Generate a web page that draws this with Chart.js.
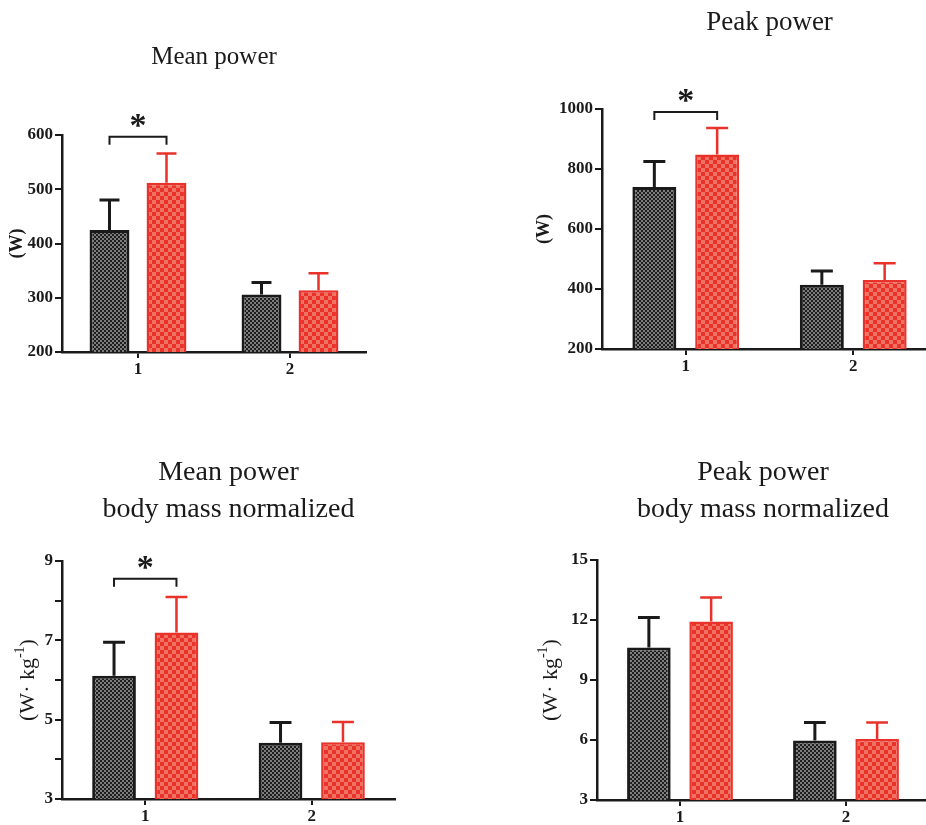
<!DOCTYPE html>
<html>
<head>
<meta charset="utf-8">
<script src="https://cdn.jsdelivr.net/npm/chart.js@4.4.1/dist/chart.umd.min.js"></script>
<style>
    body { margin: 0; background: #fff; overflow: hidden; }
    #page { position: relative; width: 926px; height: 825px; overflow: hidden; background: #fff; }
    canvas { position: absolute; }
</style>
</head>
<body>
<div id="page">
    <canvas id="meanChart" width="380" height="390" style="left:0px; top:0px;"></canvas>
    <canvas id="peakChart" width="425" height="390" style="left:525px; top:0px;"></canvas>
    <canvas id="meanNormChart" width="420" height="395" style="left:0px; top:430px;"></canvas>
    <canvas id="peakNormChart" width="420" height="395" style="left:520px; top:430px;"></canvas>
</div>
<script>
// --- Data ---
const groups = ['1', '2'];

const meanPowerA = [425, 306];
const meanPowerAErr = [55, 22];
const meanPowerB = [512, 314];
const meanPowerBErr = [54, 31];

const peakPowerA = [740, 414];
const peakPowerAErr = [85, 46];
const peakPowerB = [848, 430];
const peakPowerBErr = [89, 56];

const meanNormA = [6.11, 4.42];
const meanNormAErr = [0.84, 0.51];
const meanNormB = [7.20, 4.43];
const meanNormBErr = [0.89, 0.51];

const peakNormA = [10.63, 5.97];
const peakNormAErr = [1.50, 0.91];
const peakNormB = [11.92, 6.05];
const peakNormBErr = [1.20, 0.82];

// y level of the "*" bracket for group 1 (null = no bracket)
const sigLevels = [597, 990, 8.55, null];

const INK = '#1a1a1a';
const RED = '#e8322a';
const SERIF = "'Liberation Serif', 'Times New Roman', serif";

// --- Fill patterns ---
function checker(c1, c2, size) {
    const cv = document.createElement('canvas');
    cv.width = cv.height = size * 2;
    const c = cv.getContext('2d');
    c.fillStyle = c1;
    c.fillRect(0, 0, size * 2, size * 2);
    c.fillStyle = c2;
    c.fillRect(0, 0, size, size);
    c.fillRect(size, size, size, size);
    return c.createPattern(cv, 'repeat');
}
const darkPattern = checker('#1e1e1e', '#7c7c7c', 2);
const redPattern = checker('#e8322a', '#ef7262', 4);

// --- Plugins ---
const errorBars = {
    id: 'errorBars',
    afterDatasetsDraw(chart) {
        const ctx = chart.ctx;
        const yScale = chart.scales.y;
        chart.data.datasets.forEach((ds, i) => {
            const meta = chart.getDatasetMeta(i);
            meta.data.forEach((bar, j) => {
                const top = yScale.getPixelForValue(ds.data[j] + ds.errors[j]);
                const cap = bar.width * 0.25;
                ctx.save();
                ctx.strokeStyle = ds.borderColor;
                ctx.lineWidth = ds.errorWidth;
                ctx.beginPath();
                ctx.moveTo(bar.x, bar.y);
                ctx.lineTo(bar.x, top);
                ctx.moveTo(bar.x - cap, top);
                ctx.lineTo(bar.x + cap, top);
                ctx.stroke();
                ctx.restore();
            });
        });
    }
};

const sigBracket = {
    id: 'sigBracket',
    afterDraw(chart, args, opts) {
        if (opts.level == null) return;
        const ctx = chart.ctx;
        const x1 = chart.getDatasetMeta(0).data[0].x;
        const x2 = chart.getDatasetMeta(1).data[0].x;
        const y = chart.scales.y.getPixelForValue(opts.level);
        ctx.save();
        ctx.strokeStyle = INK;
        ctx.lineWidth = 2;
        ctx.beginPath();
        ctx.moveTo(x1, y + 8);
        ctx.lineTo(x1, y);
        ctx.lineTo(x2, y);
        ctx.lineTo(x2, y + 8);
        ctx.stroke();
        ctx.fillStyle = INK;
        ctx.font = 'bold 34px ' + SERIF;
        ctx.textAlign = 'center';
        ctx.textBaseline = 'alphabetic';
        ctx.fillText('*', (x1 + x2) / 2, y - 1);
        ctx.restore();
    }
};

const yLabel = {
    id: 'yLabel',
    afterDraw(chart, args, opts) {
        const ctx = chart.ctx;
        const area = chart.chartArea;
        const x = area.left - opts.offset;
        const y = (area.top + area.bottom) / 2;
        ctx.save();
        ctx.translate(x, y);
        ctx.rotate(-Math.PI / 2);
        ctx.fillStyle = INK;
        ctx.textBaseline = 'middle';
        ctx.textAlign = 'left';
        let total = 0;
        opts.parts.forEach(p => {
            ctx.font = p.sup ? opts.supFont : opts.font;
            total += ctx.measureText(p.text).width;
        });
        let cx = -total / 2;
        opts.parts.forEach(p => {
            ctx.font = p.sup ? opts.supFont : opts.font;
            ctx.fillText(p.text, cx, p.sup ? -8 : 0);
            cx += ctx.measureText(p.text).width;
        });
        ctx.restore();
    }
};

// --- Chart builder ---
function makeChart(id, p) {
    return new Chart(document.getElementById(id), {
        type: 'bar',
        data: {
            labels: groups,
            datasets: [
                {
                    data: p.a, errors: p.aErr,
                    backgroundColor: darkPattern, borderColor: INK, borderWidth: 3, errorWidth: 3,
                    categoryPercentage: 0.75, barPercentage: 0.7
                },
                {
                    data: p.b, errors: p.bErr,
                    backgroundColor: redPattern, borderColor: RED, borderWidth: 2.5, errorWidth: 2.5,
                    categoryPercentage: 0.75, barPercentage: 0.7
                }
            ]
        },
        plugins: [errorBars, sigBracket, yLabel],
        options: {
            responsive: false,
            animation: false,
            layout: { padding: p.padding },
            plugins: {
                legend: { display: false },
                tooltip: { enabled: false },
                title: {
                    display: true,
                    fullSize: false,
                    text: p.title,
                    color: INK,
                    font: { family: SERIF, size: p.titleSize, weight: 'normal', lineHeight: p.titleLH },
                    padding: p.titlePad
                },
                sigBracket: { level: p.sig },
                yLabel: p.yLabel
            },
            scales: {
                x: {
                    offset: true,
                    grid: { display: true, drawOnChartArea: false, offset: false, tickLength: 6, color: INK, lineWidth: 2 },
                    border: { display: true, color: INK, width: 2.5 },
                    ticks: { color: INK, padding: 1, font: { family: SERIF, size: 17, weight: 'bold' } },
                    afterFit: s => { s.height = p.xHeight; }
                },
                y: {
                    min: p.min, max: p.max,
                    grid: { display: true, drawOnChartArea: false, tickLength: 7, color: INK, lineWidth: 2 },
                    border: { display: true, color: INK, width: 2.5 },
                    ticks: {
                        stepSize: p.step, autoSkip: false, color: INK, padding: 2,
                        font: { family: SERIF, size: 17, weight: 'bold' },
                        callback: p.tickLabel || (v => v)
                    },
                    afterFit: s => { s.width = p.yWidth; }
                }
            }
        }
    });
}

const wLabel = { offset: 45, font: 'bold 18px ' + SERIF, supFont: 'bold 12px ' + SERIF, parts: [{ text: '(W)' }] };
const wkgParts = [{ text: '(W\u00b7 kg' }, { text: '-1', sup: true }, { text: ')' }];

makeChart('meanChart', {
    a: meanPowerA, aErr: meanPowerAErr, b: meanPowerB, bErr: meanPowerBErr,
    title: 'Mean power', titleSize: 25, titleLH: 1.2, titlePad: { top: 42, bottom: 63 },
    min: 200, max: 600, step: 100, sig: sigLevels[0],
    padding: { left: 0, right: 14, top: 0, bottom: 8 }, yWidth: 62, xHeight: 30,
    yLabel: Object.assign({}, wLabel, { offset: 45 })
});

makeChart('peakChart', {
    a: peakPowerA, aErr: peakPowerAErr, b: peakPowerB, bErr: peakPowerBErr,
    title: 'Peak power', titleSize: 27, titleLH: 1.2, titlePad: { top: 7, bottom: 69.6 },
    min: 200, max: 1000, step: 200, sig: sigLevels[1],
    padding: { left: 0, right: 13, top: 0, bottom: 11 }, yWidth: 77, xHeight: 30,
    yLabel: Object.assign({}, wLabel, { offset: 58 })
});

makeChart('meanNormChart', {
    a: meanNormA, aErr: meanNormAErr, b: meanNormB, bErr: meanNormBErr,
    title: ['Mean power', 'body mass normalized'], titleSize: 28, titleLH: 1.32, titlePad: { top: 24.3, bottom: 32.8 },
    min: 3, max: 9, step: 1, sig: sigLevels[2],
    tickLabel: v => ((v - 3) % 2 === 0 ? v : ''),
    padding: { left: 0, right: 25, top: 0, bottom: 2 }, yWidth: 62, xHeight: 24,
    yLabel: { offset: 34, font: '22px ' + SERIF, supFont: '14px ' + SERIF, parts: wkgParts }
});

makeChart('peakNormChart', {
    a: peakNormA, aErr: peakNormAErr, b: peakNormB, bErr: peakNormBErr,
    title: ['Peak power', 'body mass normalized'], titleSize: 28, titleLH: 1.32, titlePad: { top: 24.3, bottom: 31.8 },
    min: 3, max: 15, step: 3, sig: sigLevels[3],
    padding: { left: 0, right: 11, top: 0, bottom: 1 }, yWidth: 77, xHeight: 24,
    yLabel: { offset: 46, font: '22px ' + SERIF, supFont: '14px ' + SERIF, parts: wkgParts }
});
</script>
</body>
</html>
